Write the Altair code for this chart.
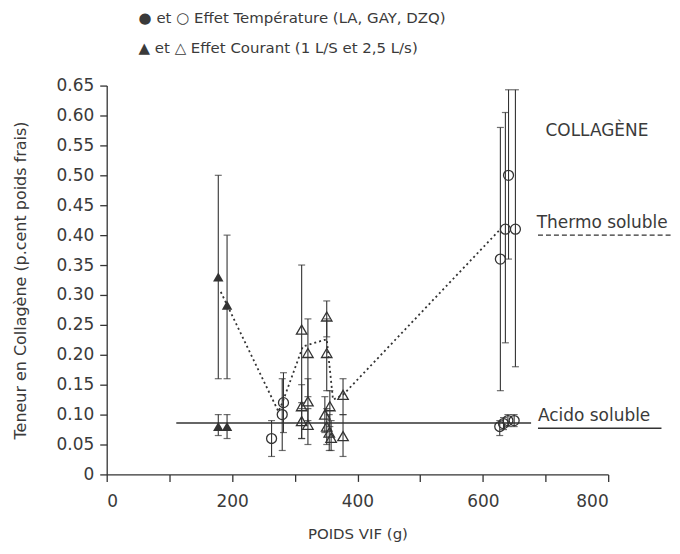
import altair as alt
import pandas as pd

# ---- data ----
# filled triangles (Effet Courant)
ft_x = [178, 192, 178, 192]
ft_y = [0.33, 0.283, 0.08, 0.08]
ft_lo = [0.16, 0.16, 0.065, 0.06]
ft_hi = [0.50, 0.40, 0.10, 0.10]

# open triangles (Effet Courant)
ot_x = [311, 321, 311, 321, 311, 321, 351, 351, 348, 356, 351, 355, 358, 377, 377]
ot_y = [0.242, 0.203, 0.114, 0.122, 0.089, 0.083, 0.264, 0.203, 0.10, 0.114, 0.08, 0.07, 0.061, 0.133, 0.064]
ot_lo = [0.11, 0.13, 0.06, 0.09, 0.06, 0.05, 0.23, 0.14, 0.07, 0.08, 0.05, 0.04, 0.04, 0.10, 0.03]
ot_hi = [0.35, 0.26, 0.15, 0.16, 0.12, 0.11, 0.29, 0.26, 0.13, 0.14, 0.11, 0.10, 0.09, 0.16, 0.10]

# open circles (Effet Temperature)
oc_x = [263, 280, 282, 628, 636, 641, 652, 627, 633, 640, 650]
oc_y = [0.06, 0.10, 0.12, 0.36, 0.41, 0.50, 0.41, 0.08, 0.085, 0.09, 0.09]
oc_lo = [0.03, 0.04, 0.07, 0.14, 0.22, 0.36, 0.18, 0.065, 0.075, 0.08, 0.08]
oc_hi = [0.09, 0.16, 0.17, 0.58, 0.605, 0.643, 0.643, 0.09, 0.095, 0.10, 0.10]

# dotted "thermo soluble" trend
th_x = [182, 274, 281, 313, 351, 361, 377, 628]
th_y = [0.305, 0.105, 0.122, 0.214, 0.226, 0.125, 0.133, 0.41]

# solid "acido soluble" level
ac_x = [111, 677]
ac_y = [0.086, 0.086]

# annotations
ann_text = ["COLLAGÈNE", "Thermo soluble", "Acido soluble"]
ann_x = [700, 686, 688]
ann_y = [0.574, 0.42, 0.097]
under_x = [688, 688]
under_x2 = [905, 885]
under_y = [0.40, 0.077]

legend_lines = ["● et ○ Effet Température (LA, GAY, DZQ)",
                "▲ et △ Effet Courant (1 L/S et 2,5 L/s)"]

x_ticks = [0, 100, 200, 300, 400, 500, 600, 700, 800]
y_ticks = [0.0, 0.05, 0.10, 0.15, 0.20, 0.25, 0.30, 0.35, 0.40, 0.45, 0.50, 0.55, 0.60, 0.65]

FONT = "DejaVu Sans"
INK = "#333333"
TXT = "#3a3a3a"

ft = pd.DataFrame({"x": ft_x, "y": ft_y, "lo": ft_lo, "hi": ft_hi})
ot = pd.DataFrame({"x": ot_x, "y": ot_y, "lo": ot_lo, "hi": ot_hi})
oc = pd.DataFrame({"x": oc_x, "y": oc_y, "lo": oc_lo, "hi": oc_hi})
allpts = pd.concat([ft, ot, oc], ignore_index=True)

xs = alt.Scale(domain=[0, 800], nice=False, zero=False)
ys = alt.Scale(domain=[0, 0.65], nice=False, zero=False)

x_axis = alt.Axis(values=x_ticks, labelOverlap=False, format="d",
                  labelExpr="datum.value % 200 == 0 ? datum.label : ''")
y_axis = alt.Axis(values=y_ticks, labelOverlap=False, tickCount=14,
                  labelExpr="datum.value == 0 ? '0' : format(datum.value, '.2f')")
X_TITLE = "POIDS VIF (g)"
Y_TITLE = "Teneur en Collagène (p.cent poids frais)"


def xq(f="x"):
    return alt.X(f"{f}:Q", scale=xs, axis=x_axis, title=X_TITLE)


def yq(f="y"):
    return alt.Y(f"{f}:Q", scale=ys, axis=y_axis, title=Y_TITLE)


base = alt.Chart(allpts)
bars = base.mark_rule(color=INK, strokeWidth=1.1).encode(x=xq(), y=yq("lo"), y2="hi:Q")
cap_lo = base.mark_tick(color=INK, orient="horizontal", size=7, thickness=1.2).encode(x=xq(), y=yq("lo"))
cap_hi = base.mark_tick(color=INK, orient="horizontal", size=7, thickness=1.2).encode(x=xq(), y=yq("hi"))

p_ft = alt.Chart(ft).mark_point(shape="triangle-up", filled=True, color=INK, size=110, opacity=1).encode(x=xq(), y=yq())
p_ot = alt.Chart(ot).mark_point(shape="triangle-up", filled=True, fill="white", fillOpacity=0, stroke=INK, strokeWidth=1.3, size=110, opacity=1).encode(x=xq(), y=yq())
p_oc = alt.Chart(oc).mark_point(shape="circle", filled=True, fill="white", fillOpacity=0, stroke=INK, strokeWidth=1.3, size=100, opacity=1).encode(x=xq(), y=yq())

thermo = alt.Chart(pd.DataFrame({"x": th_x, "y": th_y})).mark_line(
    color=INK, strokeDash=[2, 3], strokeWidth=1.8).encode(x=xq(), y=yq())
acido = alt.Chart(pd.DataFrame({"x": [ac_x[0]], "x2": [ac_x[1]], "y": [ac_y[0]]})).mark_rule(
    color=INK, strokeWidth=1.4).encode(x=xq(), x2="x2:Q", y=yq())

ann = alt.Chart(pd.DataFrame({"t": ann_text, "x": ann_x, "y": ann_y})).mark_text(
    align="left", baseline="middle", font=FONT, fontSize=17, color=TXT).encode(x=xq(), y=yq(), text="t:N")
und_dash = alt.Chart(pd.DataFrame({"x": [under_x[0]], "x2": [under_x2[0]], "y": [under_y[0]]})).mark_rule(
    color=INK, strokeWidth=1.2, strokeDash=[5, 3]).encode(x=xq(), x2="x2:Q", y=yq())
und_solid = alt.Chart(pd.DataFrame({"x": [under_x[1]], "x2": [under_x2[1]], "y": [under_y[1]]})).mark_rule(
    color=INK, strokeWidth=1.5).encode(x=xq(), x2="x2:Q", y=yq())

leg1 = alt.Chart(pd.DataFrame({"t": [legend_lines[0]]})).mark_text(
    align="left", baseline="middle", font=FONT, fontSize=15, color=TXT).encode(
    x=alt.value(32), y=alt.value(-68), text="t:N")
leg2 = alt.Chart(pd.DataFrame({"t": [legend_lines[1]]})).mark_text(
    align="left", baseline="middle", font=FONT, fontSize=15, color=TXT).encode(
    x=alt.value(32), y=alt.value(-38), text="t:N")

chart = alt.layer(bars, cap_lo, cap_hi, thermo, acido, p_ft, p_ot, p_oc, ann, und_dash, und_solid, leg1, leg2).properties(
    width=503, height=390, autosize="none",
    padding={"left": 99, "top": 77, "right": 64, "bottom": 76},
).configure_view(stroke=None).configure_axis(
    grid=False, domainColor=INK, tickColor=INK, labelColor=TXT, titleColor=TXT,
    labelFont=FONT, titleFont=FONT, labelFontSize=17, titleFontSize=16,
    titleFontWeight="normal", tickSize=7, domainWidth=1.3, tickWidth=1.3,
).configure_axisX(labelPadding=12, titlePadding=17, titleFontSize=15
).configure_axisY(labelPadding=6, titlePadding=28)

chart.save("out.html", embed_options={"renderer": "svg", "actions": False})
